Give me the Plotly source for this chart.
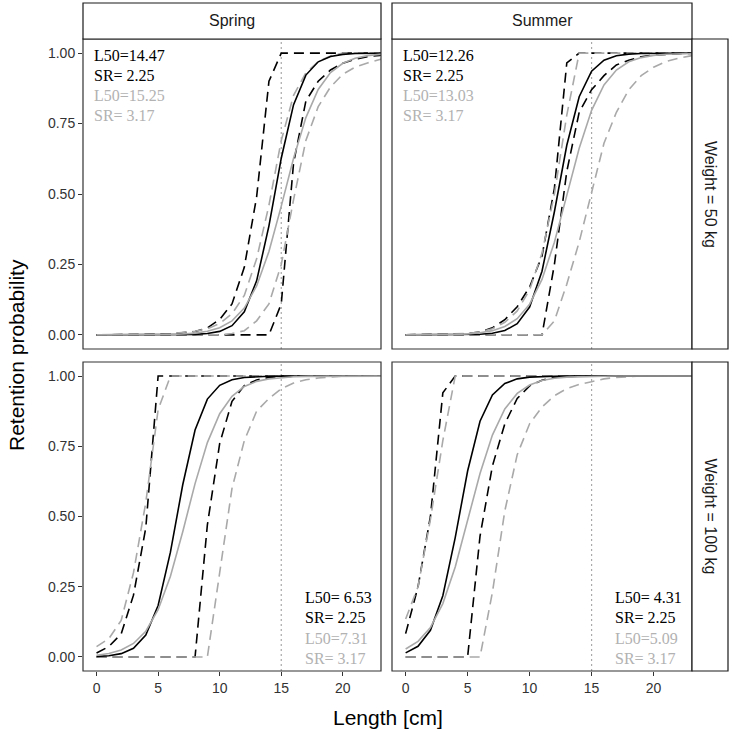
import plotly.graph_objects as go

W, H = 732, 732

# ---------------- data ----------------
length_cm = list(range(0, 25))
seasons = ["Spring", "Summer"]
weights = ["Weight = 50 kg", "Weight = 100 kg"]
x_ticks = [0, 5, 10, 15, 20]
y_ticks = [0, 0.25, 0.5, 0.75, 1.0]
y_tick_labels = ["0.00", "0.25", "0.50", "0.75", "1.00"]
mesh_line_x = 15

# Spring, 50 kg
spring50_black_fit = [0, 0, 0, 0.00001, 0.00004, 0.0001, 0.0003, 0.0007, 0.0018, 0.0048, 0.0126, 0.0327,
                      0.082, 0.192, 0.387, 0.627, 0.817, 0.922, 0.969, 0.988, 0.9955, 0.9983, 0.9994, 0.9998, 0.9999]
spring50_gray_fit = [0.00003, 0.00005, 0.0001, 0.0002, 0.0004, 0.0008, 0.0016, 0.0033, 0.0065, 0.013, 0.0256,
                     0.0499, 0.0951, 0.1737, 0.296, 0.457, 0.627, 0.771, 0.871, 0.931, 0.964, 0.982, 0.991, 0.9954, 0.9977]
spring50_black_upper = [0, 0, 0.0005, 0.001, 0.001, 0.002, 0.004, 0.007, 0.012, 0.025, 0.055, 0.11, 0.24,
                        0.49, 0.90, 1, 1, 1, 1, 1, 1, 1, 1, 1, 1]
spring50_black_lower = [0, 0, 0, 0, 0, 0, 0, 0, 0, 0, 0, 0, 0, 0, 0, 0.11, 0.61, 0.83, 0.90, 0.94, 0.964,
                        0.978, 0.987, 0.992, 0.995]
spring50_gray_upper = [0.0003, 0.0005, 0.0008, 0.0013, 0.002, 0.003, 0.005, 0.008, 0.013, 0.022, 0.04, 0.075,
                       0.14, 0.27, 0.46, 0.69, 0.85, 0.93, 0.97, 0.99, 1, 1, 1, 1, 1]
spring50_gray_lower = [0, 0, 0, 0, 0, 0, 0, 0, 0, 0, 0, 0.005, 0.015, 0.05, 0.11, 0.25, 0.48, 0.69, 0.81,
                       0.88, 0.925, 0.95, 0.965, 0.977, 0.985]

# Summer, 50 kg
summer50_black_fit = [0, 0.00002, 0.00004, 0.0001, 0.0003, 0.0008, 0.0022, 0.0058, 0.0154, 0.0398, 0.099,
                      0.226, 0.437, 0.673, 0.845, 0.936, 0.975, 0.9905, 0.9964, 0.9986, 0.9995, 0.9998, 0.9999, 1, 1]
summer50_gray_fit = [0.0001, 0.0002, 0.0005, 0.001, 0.0019, 0.0038, 0.0076, 0.0151, 0.0297, 0.0577, 0.109,
                     0.197, 0.329, 0.495, 0.662, 0.797, 0.887, 0.940, 0.969, 0.984, 0.992, 0.996, 0.998, 0.999, 0.9995]
summer50_black_upper = [0.0003, 0.0005, 0.001, 0.0015, 0.003, 0.005, 0.01, 0.025, 0.054, 0.10, 0.17, 0.28,
                        0.52, 0.965, 1, 1, 1, 1, 1, 1, 1, 1, 1, 1, 1]
summer50_black_lower = [0, 0, 0, 0, 0, 0, 0, 0, 0, 0, 0, 0, 0.25, 0.58, 0.79, 0.87, 0.92, 0.958, 0.975,
                        0.987, 0.993, 0.996, 0.998, 0.999, 1]
summer50_gray_upper = [0.0005, 0.001, 0.0015, 0.002, 0.003, 0.005, 0.01, 0.022, 0.045, 0.085, 0.16, 0.29,
                       0.50, 0.78, 1, 1, 1, 1, 1, 1, 1, 1, 1, 1, 1]
summer50_gray_lower = [0, 0, 0, 0, 0, 0, 0, 0, 0, 0, 0, 0, 0.05, 0.18, 0.33, 0.50, 0.68, 0.79, 0.87, 0.92,
                       0.95, 0.97, 0.982, 0.99, 0.995]

# Spring, 100 kg
spring100_black_fit = [0.0017, 0.0045, 0.0118, 0.0309, 0.078, 0.183, 0.373, 0.613, 0.808, 0.918, 0.967, 0.987,
                       0.995, 0.998, 0.9993, 0.9997, 0.9999, 1, 1, 1, 1, 1, 1, 1, 1]
spring100_gray_fit = [0.0063, 0.0124, 0.0246, 0.048, 0.0916, 0.168, 0.287, 0.446, 0.617, 0.763, 0.866, 0.928,
                      0.963, 0.981, 0.990, 0.995, 0.9976, 0.9988, 0.9994, 0.9997, 0.9998, 0.9999, 1, 1, 1]
spring100_black_upper = [0.014, 0.037, 0.082, 0.22, 0.46, 1, 1, 1, 1, 1, 1, 1, 1, 1, 1, 1, 1, 1, 1, 1, 1, 1,
                         1, 1, 1]
spring100_black_lower = [0, 0, 0, 0, 0, 0, 0, 0, 0, 0.47, 0.76, 0.91, 0.966, 0.986, 0.995, 0.998, 1, 1, 1,
                         1, 1, 1, 1, 1, 1]
spring100_gray_upper = [0.037, 0.065, 0.13, 0.30, 0.55, 0.88, 1, 1, 1, 1, 1, 1, 1, 1, 1, 1, 1, 1, 1, 1, 1, 1,
                        1, 1, 1]
spring100_gray_lower = [0, 0, 0, 0, 0, 0, 0, 0, 0, 0, 0.30, 0.60, 0.77, 0.875, 0.92, 0.955, 0.975, 0.987,
                        0.993, 0.997, 1, 1, 1, 1, 1]

# Summer, 100 kg
summer100_black_fit = [0.0146, 0.038, 0.0949, 0.218, 0.425, 0.662, 0.839, 0.933, 0.9735, 0.990, 0.996,
                       0.9985, 0.9994, 0.9998, 0.9999, 1, 1, 1, 1, 1, 1, 1, 1, 1, 1]
summer100_gray_fit = [0.0285, 0.0555, 0.105, 0.190, 0.320, 0.484, 0.653, 0.790, 0.883, 0.938, 0.968, 0.984,
                      0.992, 0.996, 0.998, 0.999, 0.9995, 1, 1, 1, 1, 1, 1, 1, 1]
summer100_black_upper = [0.083, 0.25, 0.50, 0.94, 1, 1, 1, 1, 1, 1, 1, 1, 1, 1, 1, 1, 1, 1, 1, 1, 1, 1, 1,
                         1, 1]
summer100_black_lower = [0, 0, 0, 0, 0, 0, 0.43, 0.68, 0.83, 0.92, 0.965, 0.985, 0.995, 0.998, 1, 1, 1, 1,
                         1, 1, 1, 1, 1, 1, 1]
summer100_gray_upper = [0.135, 0.25, 0.49, 0.77, 1, 1, 1, 1, 1, 1, 1, 1, 1, 1, 1, 1, 1, 1, 1, 1, 1, 1, 1,
                        1, 1]
summer100_gray_lower = [0, 0, 0, 0, 0, 0, 0, 0.23, 0.52, 0.72, 0.83, 0.89, 0.93, 0.955, 0.97, 0.98, 0.99,
                        0.995, 0.998, 1, 1, 1, 1, 1, 1]

# label texts per panel
black_l50 = ["L50=14.47", "L50=12.26", "L50= 6.53", "L50= 4.31"]
gray_l50 = ["L50=15.25", "L50=13.03", "L50=7.31", "L50=5.09"]
black_sr = "SR= 2.25"
gray_sr = "SR= 3.17"

panels = [
    dict(black_fit=spring50_black_fit, gray_fit=spring50_gray_fit, black_up=spring50_black_upper,
         black_lo=spring50_black_lower, gray_up=spring50_gray_upper, gray_lo=spring50_gray_lower),
    dict(black_fit=summer50_black_fit, gray_fit=summer50_gray_fit, black_up=summer50_black_upper,
         black_lo=summer50_black_lower, gray_up=summer50_gray_upper, gray_lo=summer50_gray_lower),
    dict(black_fit=spring100_black_fit, gray_fit=spring100_gray_fit, black_up=spring100_black_upper,
         black_lo=spring100_black_lower, gray_up=spring100_gray_upper, gray_lo=spring100_gray_lower),
    dict(black_fit=summer100_black_fit, gray_fit=summer100_gray_fit, black_up=summer100_black_upper,
         black_lo=summer100_black_lower, gray_up=summer100_gray_upper, gray_lo=summer100_gray_lower),
]

# ---------------- layout geometry (pixels) ----------------
col_px = [(83, 381), (392, 692)]
row_px = [(39, 349), (362, 671)]
strip_top = (3, 39)
strip_right = (692, 728)


def px_x(p):
    return p / W


def px_y(p):
    return 1 - p / H


BLACK = "#000000"
GRAY = "#a9a9a9"
GRAY_TXT = "#b2b2b2"
DASH = "10px,6px"
LW = 1.6

fig = go.Figure()

for i, pd_ in enumerate(panels):
    sfx = "" if i == 0 else str(i + 1)
    xa, ya = "x" + sfx, "y" + sfx
    order = [
        ("black_up", BLACK, DASH), ("black_lo", BLACK, DASH),
        ("gray_up", GRAY, DASH), ("gray_lo", GRAY, DASH),
        ("black_fit", BLACK, "solid"), ("gray_fit", GRAY, "solid"),
    ]
    for key, col, dash in order:
        fig.add_trace(go.Scatter(
            x=length_cm, y=pd_[key], mode="lines", xaxis=xa, yaxis=ya,
            line=dict(color=col, width=LW, dash=dash), showlegend=False, hoverinfo="skip"))

axis_font = dict(family="Liberation Sans, Arial, sans-serif", size=14, color="#333333")
layout = dict(
    width=W, height=H, margin=dict(l=0, r=0, t=0, b=0), autosize=False,
    paper_bgcolor="white", plot_bgcolor="white", showlegend=False,
)
shapes = []
annotations = []
for i in range(4):
    r, c = divmod(i, 2)
    sfx = "" if i == 0 else str(i + 1)
    x0, x1 = col_px[c]
    y0, y1 = row_px[r]
    layout["xaxis" + sfx] = dict(
        domain=[px_x(x0), px_x(x1)], range=[-1.1, 23.1], anchor="y" + sfx,
        tickvals=x_ticks, showticklabels=(r == 1), ticks="outside" if r == 1 else "",
        ticklen=4, tickcolor="#333333", tickwidth=1, tickfont=axis_font,
        showgrid=False, zeroline=False, showline=False, fixedrange=True)
    layout["yaxis" + sfx] = dict(
        domain=[px_y(y1), px_y(y0)], range=[-0.05, 1.05], anchor="x" + sfx,
        tickvals=y_ticks, ticktext=y_tick_labels, showticklabels=(c == 0),
        ticks="outside" if c == 0 else "", ticklen=4, tickcolor="#333333", tickwidth=1,
        tickfont=axis_font, showgrid=False, zeroline=False, showline=False, fixedrange=True)
    # dotted reference line
    shapes.append(dict(type="line", xref="x" + sfx, yref="y" + sfx + " domain",
                       x0=mesh_line_x, x1=mesh_line_x, y0=0, y1=1,
                       line=dict(color="#a9a9a9", width=1.2, dash="2px,3px"), layer="below"))
    # panel border
    shapes.append(dict(type="rect", xref="paper", yref="paper",
                       x0=px_x(x0), x1=px_x(x1), y0=px_y(y1), y1=px_y(y0),
                       line=dict(color="#333333", width=1.2), fillcolor="rgba(0,0,0,0)"))
    # labels
    if r == 0:
        tx = x0 + 9
        ys = [55, 75, 95.5, 115]
    else:
        tx = x0 + 220 if c == 0 else x0 + 221
        ys = [597, 617.5, 638, 658]
    texts = [(black_l50[i], BLACK), (black_sr, BLACK), (gray_l50[i], GRAY_TXT), (gray_sr, GRAY_TXT)]
    for (t, col), yy in zip(texts, ys):
        annotations.append(dict(text=t, xref="paper", yref="paper", x=px_x(tx), y=px_y(yy),
                                xanchor="left", yanchor="middle", showarrow=False,
                                font=dict(family="Liberation Serif, Times New Roman, serif",
                                          size=16, color=col)))

# strips
for c in range(2):
    x0, x1 = col_px[c]
    shapes.append(dict(type="rect", xref="paper", yref="paper",
                       x0=px_x(x0), x1=px_x(x1), y0=px_y(strip_top[1]), y1=px_y(strip_top[0]),
                       line=dict(color="#1a1a1a", width=1.2), fillcolor="white"))
    annotations.append(dict(text=seasons[c], xref="paper", yref="paper",
                            x=px_x((x0 + x1) / 2), y=px_y((strip_top[0] + strip_top[1]) / 2),
                            xanchor="center", yanchor="middle", showarrow=False,
                            font=dict(family="Liberation Sans, Arial, sans-serif", size=16, color="#1a1a1a")))
for r in range(2):
    y0, y1 = row_px[r]
    shapes.append(dict(type="rect", xref="paper", yref="paper",
                       x0=px_x(strip_right[0]), x1=px_x(strip_right[1]), y0=px_y(y1), y1=px_y(y0),
                       line=dict(color="#1a1a1a", width=1.2), fillcolor="white"))
    annotations.append(dict(text=weights[r], xref="paper", yref="paper",
                            x=px_x((strip_right[0] + strip_right[1]) / 2), y=px_y((y0 + y1) / 2),
                            xanchor="center", yanchor="middle", showarrow=False, textangle=90,
                            font=dict(family="Liberation Sans, Arial, sans-serif", size=16, color="#1a1a1a")))

# axis titles
annotations.append(dict(text="Retention probability", xref="paper", yref="paper",
                        x=px_x(16), y=px_y(355), xanchor="center", yanchor="middle", textangle=-90,
                        showarrow=False, font=dict(family="Liberation Sans, Arial, sans-serif", size=21,
                                                   color="#000000")))
annotations.append(dict(text="Length [cm]", xref="paper", yref="paper",
                        x=px_x(387.5), y=px_y(717), xanchor="center", yanchor="middle",
                        showarrow=False, font=dict(family="Liberation Sans, Arial, sans-serif", size=21,
                                                   color="#000000")))

layout["shapes"] = shapes
layout["annotations"] = annotations
fig.update_layout(**layout)
fig.write_html("out.html", config={"displayModeBar": False},
               post_script="document.body.style.margin='0';document.body.style.overflow='hidden';")
